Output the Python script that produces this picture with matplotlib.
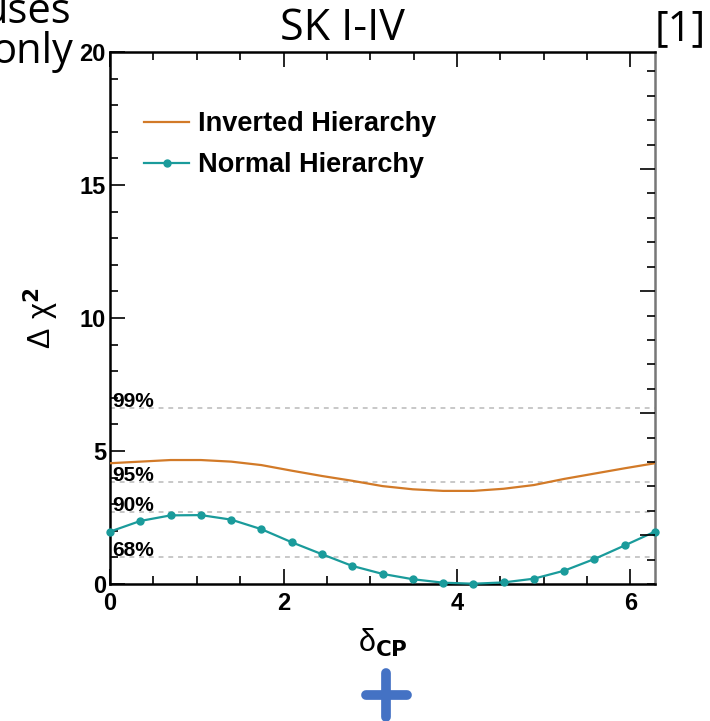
import numpy as np
import matplotlib.pyplot as plt
from matplotlib.ticker import MultipleLocator, NullFormatter
from matplotlib.lines import Line2D

# delta_CP grid (19 points over 0..2pi)
dcp = np.linspace(0, 2 * np.pi, 19)
nh = [1.97, 2.37, 2.58, 2.59, 2.42, 2.06, 1.57, 1.12, 0.68, 0.38,
      0.18, 0.05, 0.01, 0.06, 0.20, 0.50, 0.94, 1.45, 1.97]
ih = [4.54, 4.60, 4.66, 4.66, 4.60, 4.47, 4.26, 4.06, 3.88, 3.68,
      3.56, 3.50, 3.50, 3.58, 3.72, 3.95, 4.15, 4.35, 4.54]
cl_levels = [6.63, 3.84, 2.71, 1.0]
cl_names = ["99%", "95%", "90%", "68%"]

orange = "#d27a28"
teal = "#1a9b9b"

plt.rcParams['font.family'] = ['Liberation Sans', 'DejaVu Sans']
plt.rcParams['mathtext.default'] = 'regular'

fig = plt.figure(figsize=(7.10, 7.21), dpi=100)
ax = fig.add_axes([0.155, 0.19, 0.7675, 0.738])

for lvl, name in zip(cl_levels, cl_names):
    ax.axhline(lvl, color="#c8c8c8", lw=1.4, ls=(0, (2.5, 2.5)), zorder=1)
    ax.text(0.02, lvl + 0.04, name, fontsize=15, fontweight='bold',
            ha='left', va='baseline', zorder=3)

ax.plot(dcp, ih, color=orange, lw=1.6, label="Inverted Hierarchy", zorder=4)
ax.plot(dcp, nh, color=teal, lw=1.6, marker='o', ms=5, clip_on=False,
        label="Normal Hierarchy", zorder=5)

ax.set_xlim(0, 2 * np.pi)
ax.set_ylim(0, 20)
ax.xaxis.set_major_locator(MultipleLocator(2))
ax.xaxis.set_minor_locator(MultipleLocator(0.5))
ax.yaxis.set_major_locator(MultipleLocator(5))
ax.yaxis.set_minor_locator(MultipleLocator(1))
ax.tick_params(which='both', direction='in', top=True, right=False,
               width=1.2, labelsize=17)
ax.tick_params(which='major', length=11)
ax.tick_params(which='minor', length=6)
for lab in ax.get_xticklabels() + ax.get_yticklabels():
    lab.set_fontweight('bold')
ax.tick_params(axis='x', pad=6)
ax.tick_params(axis='y', pad=3)
for s in ax.spines.values():
    s.set_linewidth(1.8)
ax.spines['right'].set_color('#777777')

# right-hand axis ticks (different scale in the original)
ax2 = ax.twinx()
ax2.set_ylim(3.0, 24.8)
ax2.yaxis.set_major_locator(MultipleLocator(5))
ax2.yaxis.set_minor_locator(MultipleLocator(1))
ax2.yaxis.set_major_formatter(NullFormatter())
ax2.tick_params(which='both', direction='in', width=1.2)
ax2.tick_params(which='major', length=11)
ax2.tick_params(which='minor', length=6)
for s in ax2.spines.values():
    s.set_visible(False)

ax.set_ylabel(r"$\Delta\ \chi^{\mathbf{2}}$", fontsize=22, labelpad=13)
ax.set_xlabel(r"$\delta_{\mathbf{CP}}$", fontsize=22, labelpad=8)

leg = ax.legend(loc='upper left', bbox_to_anchor=(0.018, 0.934), frameon=False,
                prop={'weight': 'bold', 'size': 19.5}, handlelength=1.65,
                handletextpad=0.35, labelspacing=0.55, numpoints=1)

# surrounding slide text
fig.text(0.483, 0.960, "SK I-IV", fontsize=31, family='Open Sans',
         ha='center', va='center')
fig.text(0.958, 0.960, "[1]", fontsize=30, family='Open Sans',
         ha='center', va='center')
fig.text(0.100, 0.968, "uses", fontsize=30, family='Open Sans',
         ha='right', va='baseline')
fig.text(0.104, 0.912, "only", fontsize=30, family='Open Sans',
         ha='right', va='baseline')

# blue plus
fig.add_artist(Line2D([0.515, 0.573], [0.036, 0.036], color='#4472c4',
                      lw=7, solid_capstyle='round', transform=fig.transFigure))
fig.add_artist(Line2D([0.544, 0.544], [0.006, 0.066], color='#4472c4',
                      lw=7, solid_capstyle='round', transform=fig.transFigure))

fig.savefig("out.png", dpi=100)
